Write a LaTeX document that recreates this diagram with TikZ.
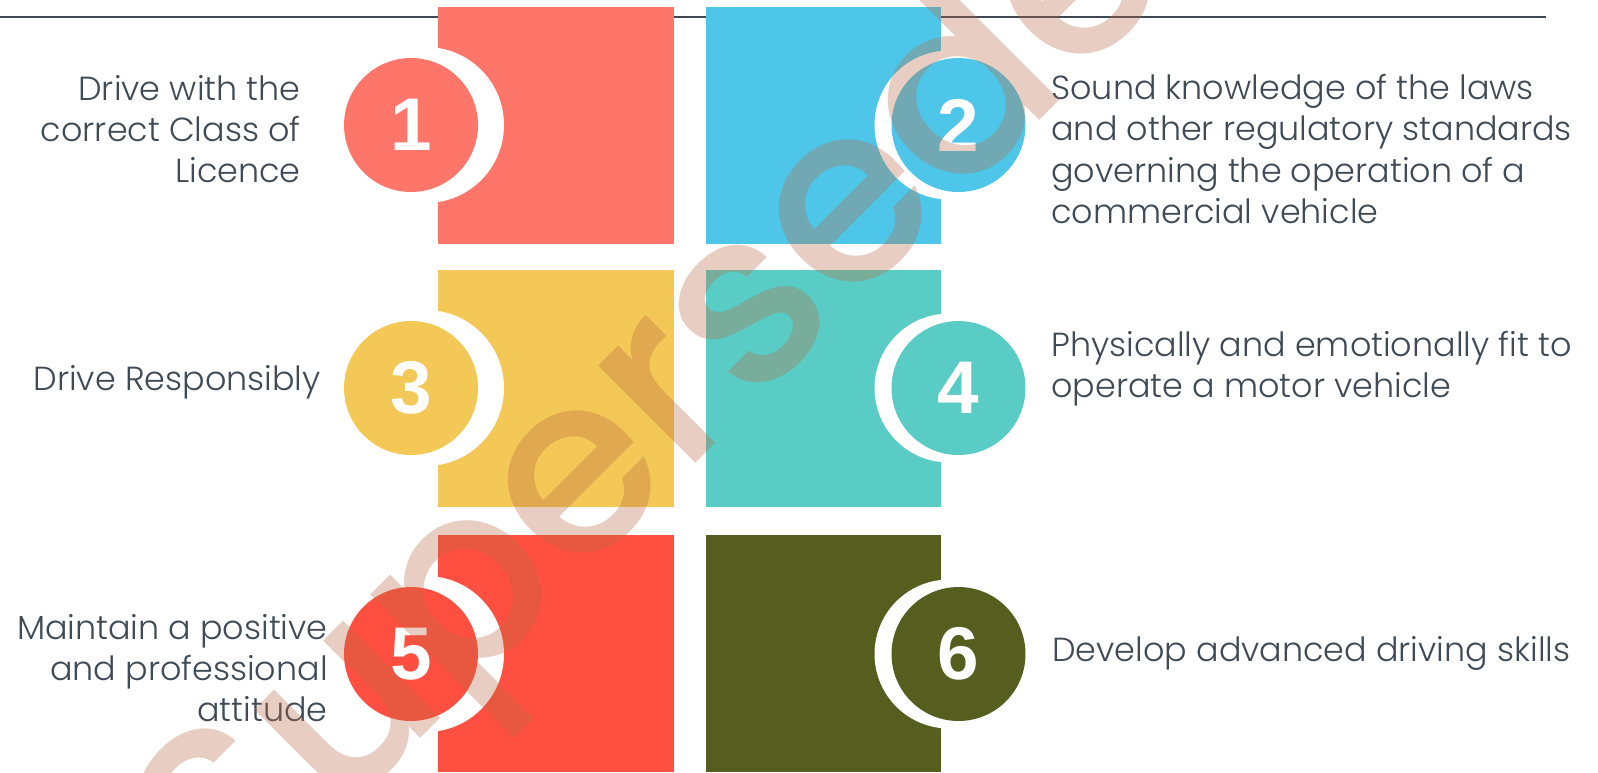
\documentclass[tikz,border=0pt]{standalone}
\usepackage{fontspec}
\setmainfont{Poppins}[UprightFont=* Light]
\newfontfamily\digitfont{Liberation Sans}
\newfontfamily\markfont{Poppins}[UprightFont=* Medium]
\definecolor{rulegray}{RGB}{62, 72, 82}
\definecolor{textslate}{RGB}{62, 74, 86}
\definecolor{coral1}{RGB}{254, 117, 105}
\definecolor{sky1}{RGB}{77, 198, 234}
\definecolor{mustard1}{RGB}{243, 200, 86}
\definecolor{teal1}{RGB}{89, 204, 197}
\definecolor{tomato1}{RGB}{255, 79, 64}
\definecolor{olive1}{RGB}{86, 94, 31}
\definecolor{markbrown}{RGB}{186, 107, 70}
\usetikzlibrary{positioning}

\begin{document}
\begin{tikzpicture}[x=0.02cm, y=-0.02cm,
  tile/.style={rectangle, inner sep=0pt, minimum width=4.72cm, minimum height=4.73cm},
  halo/.style={circle, fill=white, inner sep=0pt},
  badge/.style={circle, inner sep=0pt, minimum size=2.68cm, text=white, font=\digitfont\bfseries\fontsize{42.5}{42.5}\selectfont},
  point/.style={inner sep=0pt, text=textslate, font=\fontsize{19}{23.5}\selectfont}]
  \useasboundingbox (0,0) rectangle (1598,772);

  % Top rule
  \coordinate (rule west) at (0,16.7);
  \coordinate (rule east) at (1546,16.7);
  \draw[rulegray, line width=1pt] (rule west) -- (rule east);

  % Coloured tiles
  \node[tile, fill=coral1]   (tile1) at (556,125.7) {};
  \node[tile, fill=sky1]     (tile2) at (823.5,125.7) {};
  \node[tile, fill=mustard1] (tile3) at (556,388.5) {};
  \node[tile, fill=teal1]    (tile4) at (823.5,388.5) {};
  \node[tile, fill=tomato1]  (tile5) at (556,653.5) {};
  \node[tile, fill=olive1]   (tile6) at (823.5,653.5) {};

  % White halos behind the badges
  \node[halo, minimum size=3.12cm] (halo1) at (426,125) {};
  \node[halo, minimum size=2.98cm] (halo2) at (949,125) {};
  \node[halo, minimum size=3.12cm] (halo3) at (426,388) {};
  \node[halo, minimum size=2.98cm] (halo4) at (949,388) {};
  \node[halo, minimum size=3.12cm] (halo5) at (426,654) {};
  \node[halo, minimum size=2.98cm] (halo6) at (949,654) {};

  % Numbered badges
  \node[badge, fill=coral1]   (badge1) at (411,125) {1};
  \node[badge, fill=sky1]     (badge2) at (958.5,125) {2};
  \node[badge, fill=mustard1] (badge3) at (411,388) {3};
  \node[badge, fill=teal1]    (badge4) at (958.5,388) {4};
  \node[badge, fill=tomato1]  (badge5) at (411,654) {5};
  \node[badge, fill=olive1]   (badge6) at (958.5,654) {6};

  % Left texts
  \node[point, anchor=east, align=right] (text1) at (301,129) {Drive with the\\correct Class of\\Licence};
  \node[point, anchor=east, align=right] (text3) at (321,382) {Drive Responsibly};
  \node[point, anchor=east, align=right] (text5) at (328,668) {Maintain a positive\\and professional\\attitude};

  % Right texts
  \node[point, anchor=west, align=left] (text2) at (1051,149) {Sound knowledge of the laws\\and other regulatory standards\\governing the operation of a\\commercial vehicle};
  \node[point, anchor=west, align=left] (text4) at (1051,369) {Physically and emotionally fit to\\operate a motor vehicle};
  \node[point, anchor=west, align=left] (text6) at (1052,653) {Develop advanced driving skills};

  % Watermark
  \node[rotate=45, text=markbrown, text opacity=0.33, inner sep=0pt, font=\markfont\fontsize{142}{142}\selectfont] (mark) at (725,350) {Superseded};
\end{tikzpicture}
\end{document}
